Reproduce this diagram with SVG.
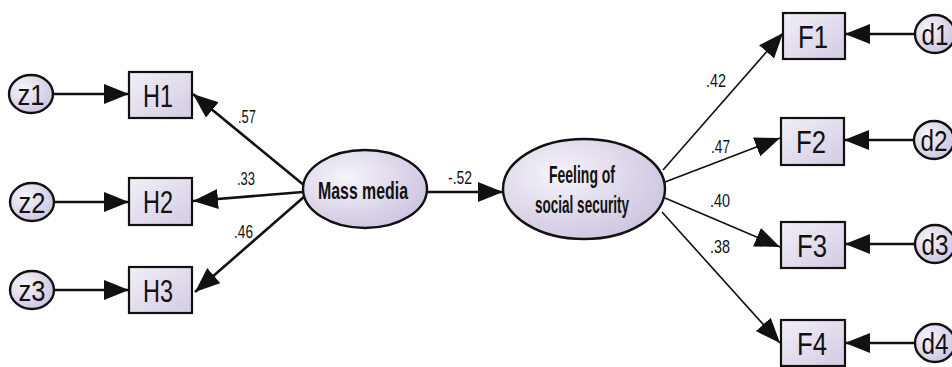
<svg xmlns="http://www.w3.org/2000/svg" width="952" height="367" viewBox="0 0 952 367">
<style>
text{font-family:"Liberation Sans",Arial,sans-serif;fill:#111}
.box{fill:url(#gb);stroke:#111;stroke-width:2.2}
.ell{fill:url(#ge);stroke:#111;stroke-width:2.4}
.nl{font-size:32px;text-anchor:middle}
.el{font-size:29px;text-anchor:middle}
.lat{font-size:24px;font-weight:bold;text-anchor:middle}
.lab{font-size:19px}
.c{fill:none;stroke:#111;stroke-width:2.6}
.t{fill:none;stroke:#111;stroke-width:1.6}
</style>
<defs>
<linearGradient id="gb" x1="0" y1="0" x2="1" y2="1"><stop offset="0" stop-color="#f2eff7"/><stop offset="1" stop-color="#d3cbe3"/></linearGradient>
<radialGradient id="ge" cx="0.35" cy="0.35" r="0.8"><stop offset="0" stop-color="#f6f4fa"/><stop offset="1" stop-color="#c9bedd"/></radialGradient>
<marker id="ah" markerUnits="userSpaceOnUse" markerWidth="28" markerHeight="22" refX="25" refY="10" orient="auto"><path d="M0,0 L25,10 L0,20 Z" fill="#111"/></marker>
</defs>
<rect width="952" height="367" fill="#fff"/>
<g id="connectors">
<line class="c" x1="53" y1="94" x2="129" y2="94" marker-end="url(#ah)"/>
<line class="c" x1="54" y1="202" x2="129" y2="202" marker-end="url(#ah)"/>
<line class="c" x1="54" y1="290" x2="129" y2="290" marker-end="url(#ah)"/>
<line class="c" x1="305" y1="186" x2="193" y2="94" marker-end="url(#ah)"/>
<line class="c" x1="303" y1="192" x2="193" y2="201" marker-end="url(#ah)"/>
<line class="c" x1="305" y1="196" x2="195" y2="292" marker-end="url(#ah)"/>
<line class="c" x1="427" y1="192" x2="503" y2="192" marker-end="url(#ah)"/>
<line class="t" x1="663" y1="170" x2="783" y2="33" marker-end="url(#ah)"/>
<line class="t" x1="665" y1="182" x2="780" y2="138" marker-end="url(#ah)"/>
<line class="t" x1="665" y1="198" x2="780" y2="247" marker-end="url(#ah)"/>
<line class="t" x1="662" y1="212" x2="780" y2="343" marker-end="url(#ah)"/>
<line class="c" x1="915" y1="34" x2="845" y2="34" marker-end="url(#ah)"/>
<line class="c" x1="914" y1="140" x2="844" y2="140" marker-end="url(#ah)"/>
<line class="c" x1="915" y1="244" x2="845" y2="244" marker-end="url(#ah)"/>
<line class="c" x1="915" y1="343" x2="845" y2="343" marker-end="url(#ah)"/>
<text class="lab" x="238" y="123" textLength="18" lengthAdjust="spacingAndGlyphs">.57</text>
<text class="lab" x="237" y="185" textLength="18" lengthAdjust="spacingAndGlyphs">.33</text>
<text class="lab" x="234" y="238" textLength="19" lengthAdjust="spacingAndGlyphs">.46</text>
<text class="lab" x="448" y="184" textLength="24" lengthAdjust="spacingAndGlyphs">-.52</text>
<text class="lab" x="706" y="87" textLength="20" lengthAdjust="spacingAndGlyphs">.42</text>
<text class="lab" x="711" y="153" textLength="19" lengthAdjust="spacingAndGlyphs">.47</text>
<text class="lab" x="710" y="207" textLength="20" lengthAdjust="spacingAndGlyphs">.40</text>
<text class="lab" x="710" y="253" textLength="20" lengthAdjust="spacingAndGlyphs">.38</text>
</g>
<g id="z1"><ellipse class="ell" cx="31" cy="94" rx="22" ry="19"/><text class="el" x="31" y="105" textLength="27" lengthAdjust="spacingAndGlyphs">z1</text></g>
<g id="z2"><ellipse class="ell" cx="32" cy="202" rx="22" ry="19"/><text class="el" x="32" y="213" textLength="27" lengthAdjust="spacingAndGlyphs">z2</text></g>
<g id="z3"><ellipse class="ell" cx="32" cy="290" rx="22" ry="19"/><text class="el" x="32" y="301" textLength="27" lengthAdjust="spacingAndGlyphs">z3</text></g>
<g id="H1"><rect class="box" x="129" y="72" width="63" height="46"/><text class="nl" x="158" y="107" textLength="30" lengthAdjust="spacingAndGlyphs">H1</text></g>
<g id="H2"><rect class="box" x="129" y="178" width="63" height="47"/><text class="nl" x="158" y="213" textLength="30" lengthAdjust="spacingAndGlyphs">H2</text></g>
<g id="H3"><rect class="box" x="129" y="267" width="63" height="46"/><text class="nl" x="158" y="302" textLength="30" lengthAdjust="spacingAndGlyphs">H3</text></g>
<g id="mass-media"><ellipse class="ell" cx="365" cy="189" rx="62" ry="39"/><text class="lat" x="363" y="199" textLength="90" lengthAdjust="spacingAndGlyphs">Mass media</text></g>
<g id="feeling"><ellipse class="ell" cx="584" cy="189" rx="81" ry="50"/><text class="lat" x="582" y="183" textLength="66" lengthAdjust="spacingAndGlyphs">Feeling of</text><text class="lat" x="582" y="213" textLength="94" lengthAdjust="spacingAndGlyphs">social security</text></g>
<g id="F1"><rect class="box" x="783" y="13" width="62" height="46"/><text class="nl" x="813" y="48" textLength="30" lengthAdjust="spacingAndGlyphs">F1</text></g>
<g id="F2"><rect class="box" x="781" y="118" width="63" height="47"/><text class="nl" x="811" y="153" textLength="30" lengthAdjust="spacingAndGlyphs">F2</text></g>
<g id="F3"><rect class="box" x="781" y="222" width="64" height="46"/><text class="nl" x="812" y="257" textLength="30" lengthAdjust="spacingAndGlyphs">F3</text></g>
<g id="F4"><rect class="box" x="781" y="320" width="64" height="46"/><text class="nl" x="812" y="355" textLength="30" lengthAdjust="spacingAndGlyphs">F4</text></g>
<g id="d1"><ellipse class="ell" cx="935" cy="34" rx="20" ry="19"/><text class="el" x="935" y="45" textLength="27" lengthAdjust="spacingAndGlyphs">d1</text></g>
<g id="d2"><ellipse class="ell" cx="934" cy="140" rx="20" ry="19"/><text class="el" x="934" y="151" textLength="27" lengthAdjust="spacingAndGlyphs">d2</text></g>
<g id="d3"><ellipse class="ell" cx="935" cy="244" rx="20" ry="19"/><text class="el" x="935" y="255" textLength="27" lengthAdjust="spacingAndGlyphs">d3</text></g>
<g id="d4"><ellipse class="ell" cx="935" cy="343" rx="20" ry="19"/><text class="el" x="935" y="354" textLength="27" lengthAdjust="spacingAndGlyphs">d4</text></g>
</svg>
